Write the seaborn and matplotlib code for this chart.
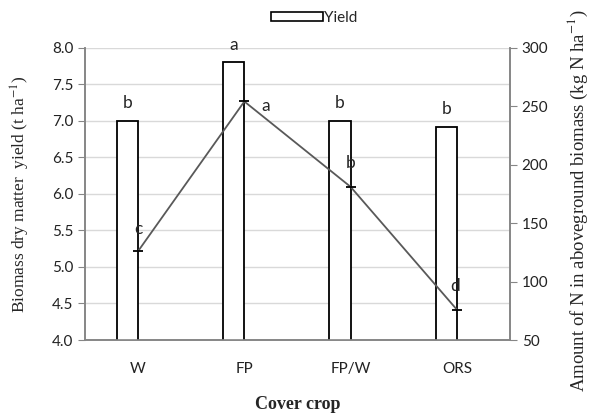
import numpy as np
import pandas as pd
import seaborn as sns
import matplotlib.pyplot as plt
from matplotlib.patches import Patch

# ==============================
# DATA
# ==============================
crops = ["W", "FP", "FP/W", "ORS"]
yield_vals = [7.0, 7.8, 7.0, 6.92]
yield_letters = ["b", "a", "b", "b"]
n_vals = [126, 254, 181, 76]
n_letters = ["c", "a", "b", "d"]

df = pd.DataFrame({"crop": crops, "yield": yield_vals, "series": "Yield"})

# ==============================
# STYLE
# ==============================
sns.set_style("white")
plt.rcParams["font.family"] = ["Lato", "DejaVu Sans"]
plt.rcParams["mathtext.fontset"] = "stix"

fig = plt.figure(figsize=(5.93, 4.19), dpi=100)
ax = fig.add_axes([0.1433, 0.1885, 0.7167, 0.6977])

gray = "#868686"
grid = "#d9d9d9"

# bars: second (empty) hue level keeps the Excel-style cluster offset
sns.barplot(data=df, x="crop", y="yield", hue="series",
            hue_order=["Yield", "N"], width=0.4, dodge=True,
            color="white", edgecolor="black", linewidth=1.3,
            legend=False, ax=ax, zorder=3)
for p in ax.patches:
    p.set_facecolor("white")
    p.set_edgecolor("black")

ax.set_ylim(4.0, 8.0)
ax.set_xlim(-0.5, 3.5)
ax.set_yticks(np.arange(4.0, 8.01, 0.5))
ax.set_yticklabels([f"{v:.1f}" for v in np.arange(4.0, 8.01, 0.5)])
ax.yaxis.grid(True, color=grid, linewidth=1, zorder=0)
ax.set_axisbelow(True)

# letters above bars
for i, (v, t) in enumerate(zip(yield_vals, yield_letters)):
    ax.text(i - 0.1, v + 0.13, t, ha="center", va="bottom", fontsize=12.5)

ax.set_xlabel("Cover crop", family="Liberation Serif", fontweight="bold",
              fontsize=13, labelpad=14)
ax.set_ylabel("Biomass dry matter  yield (t ha$^{-1}$)",
              family="Liberation Serif", fontsize=12.5, labelpad=14)

# ==============================
# SECONDARY AXIS - N amount
# ==============================
ax2 = ax.twinx()
sns.lineplot(x=np.arange(len(crops)), y=n_vals, ax=ax2, color="#595959",
             linewidth=1.3, marker="_", markersize=7,
             markeredgecolor="black", markeredgewidth=1.3, zorder=4)
ax2.set_ylim(50, 300)
ax2.set_yticks(np.arange(50, 301, 50))
ax2.set_xlim(-0.5, 3.5)

n_offsets = [(0.0, 19), (0.2, -4), (0.0, 20), (-0.02, 20)]
for i, (v, t) in enumerate(zip(n_vals, n_letters)):
    dx, dy = n_offsets[i]
    ax2.text(i + dx, v + dy, t, ha="center", va="center", fontsize=12.5)

for a in (ax, ax2):
    for s in ["top"]:
        a.spines[s].set_visible(False)
    for s in ["left", "right", "bottom"]:
        a.spines[s].set_color(gray)
        a.spines[s].set_linewidth(1.2)
    a.tick_params(labelsize=11, colors="#222222")

ax.tick_params(axis="y", which="major", direction="out", length=5,
               color=gray, left=True)
ax.tick_params(axis="x", length=0, pad=16)
ax2.tick_params(axis="y", direction="out", length=5, color=gray, right=True)

fig.text(0.975, 0.52, "Amount of N in aboveground biomass (kg N ha$^{-1}$)",
         rotation=90, ha="center", va="center",
         family="Liberation Serif", fontsize=13.5)

# legend
handles = [Patch(facecolor="white", edgecolor="black", linewidth=1.2,
                 label="Yield")]
fig.legend(handles=handles, loc="center", bbox_to_anchor=(0.53, 0.958),
           frameon=False, fontsize=11, handlelength=3.4, handleheight=0.5,
           handletextpad=0.1)

fig.savefig("out.png", dpi=100)
